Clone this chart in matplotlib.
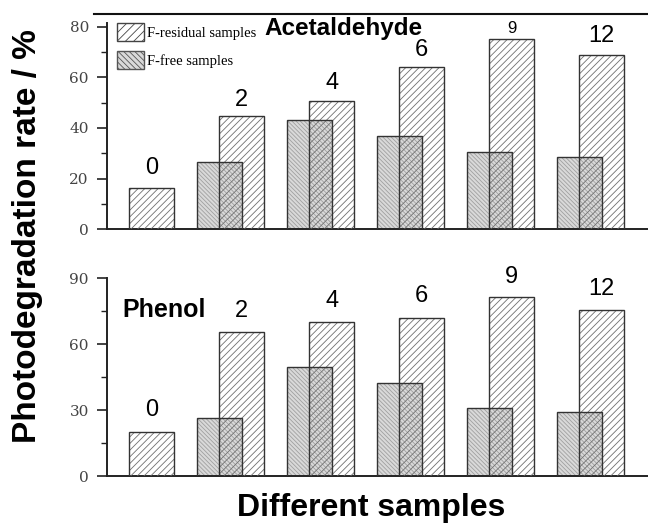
import numpy as np
import matplotlib
matplotlib.use("Agg")
from matplotlib import pyplot as plt
from matplotlib.patches import Patch
from matplotlib.lines import Line2D

# sample labels (F content) and degradation rates
samples = ["0", "2", "4", "6", "9", "12"]
acet_residual = [16.3, 44.6, 50.5, 63.9, 75.1, 68.9]
acet_free = [0, 26.6, 43.3, 37.0, 30.7, 28.5]
phenol_residual = [20.3, 65.5, 70.0, 72.1, 81.6, 75.6]
phenol_free = [0, 26.6, 49.8, 42.3, 31.2, 29.4]

plt.rcParams['hatch.linewidth'] = 0.6

fig = plt.figure(figsize=(6.48, 5.25), dpi=100)
ax1 = fig.add_axes([0.1651, 0.5632, 0.8349, 0.3930])
ax2 = fig.add_axes([0.1651, 0.0928, 0.8349, 0.3777])

x = np.arange(len(samples))
w = 0.5

def draw_panel(ax, resid, free, ymax, major, label_off, small9=False):
    xf = x - 0.125
    xr = x + 0.125
    fh = [v if v > 0 else np.nan for v in free]
    # F-free bars: grey fill with fine hatch
    ax.bar(xf, fh, w, color="#d9d9d9", edgecolor="#a0a0a0", hatch="\\\\\\\\\\\\\\\\",
           linewidth=0, zorder=2)
    # F-residual bars: transparent, coarser hatch drawn over
    ax.bar(xr, resid, w, color="none", edgecolor="#707070", hatch="/////",
           linewidth=0, zorder=3)
    ax.bar(xf, fh, w, color="none", edgecolor="#333333", linewidth=1.0, zorder=4)
    ax.bar(xr, resid, w, color="none", edgecolor="#333333", linewidth=1.0, zorder=4)
    for i, s in enumerate(samples):
        fs = 17
        kw = {}
        if small9 and s == "9":
            fs = 12
            kw = dict(bbox=dict(facecolor="white", edgecolor="none", pad=0.5))
        ax.annotate(s, (xr[i], resid[i]), xytext=(0, label_off[i]),
                    textcoords="offset pixels", ha="center", va="center",
                    fontsize=fs, family="Liberation Sans", zorder=5, **kw)
    ax.set_xlim(-0.372, 5.639)
    ax.set_ylim(0, ymax)
    ax.set_yticks(np.arange(0, ymax, major))
    ax.set_yticks(np.arange(major / 2, ymax, major), minor=True)
    ax.set_xticks([])
    for sp in ["top", "right"]:
        ax.spines[sp].set_visible(False)
    for sp in ["left", "bottom"]:
        ax.spines[sp].set_linewidth(1.4)
        ax.spines[sp].set_color("#222222")
    ax.tick_params(axis="y", which="major", length=7, width=1.2, pad=6,
                   labelsize=11, labelcolor="#444444", color="#222222")
    ax.tick_params(axis="y", which="minor", length=4, width=1.0, color="#222222")
    for t in ax.get_yticklabels():
        t.set_family("DejaVu Serif")
    ax.patch.set_alpha(0)

draw_panel(ax1, acet_residual, acet_free, 81.4, 20, [20, 16, 18, 17, 10, 19], small9=True)
draw_panel(ax2, phenol_residual, phenol_free, 90.2, 30, [22, 21, 21, 22, 20, 21])

ax1.text(2.25, 76.6, "Acetaldehyde", ha="center", va="baseline", fontsize=17.5,
         fontweight="bold", family="Liberation Sans")
ax2.text(0.261, 72.3, "Phenol", ha="center", va="baseline", fontsize=18,
         fontweight="bold", family="Liberation Sans")

handles = [Patch(facecolor="white", edgecolor="#444444", hatch="////", linewidth=1),
           Patch(facecolor="#d9d9d9", edgecolor="#555555", hatch="\\\\\\\\\\\\", linewidth=1)]
ax1.legend(handles, ["F-residual samples", "F-free samples"], loc="upper left",
           bbox_to_anchor=(0.018, 1.0), frameon=False, borderpad=0, borderaxespad=0,
           handlelength=1.9, handleheight=1.5, handletextpad=0.2, labelspacing=0.7,
           prop={"family": "Liberation Serif", "size": 10.5})

fig.add_artist(Line2D([94 / 648, 1.0], [1 - 14 / 525] * 2, color="#111111", lw=1.5))

fig.text(0.043, 0.55, "Photodegradation rate / %", rotation=90, ha="center", va="center",
         fontsize=24, fontweight="bold", family="Liberation Sans")
fig.text(0.573, 0.017, "Different samples", ha="center", va="baseline",
         fontsize=23, fontweight="bold", family="Liberation Sans")

fig.savefig("out.png", dpi=100)
